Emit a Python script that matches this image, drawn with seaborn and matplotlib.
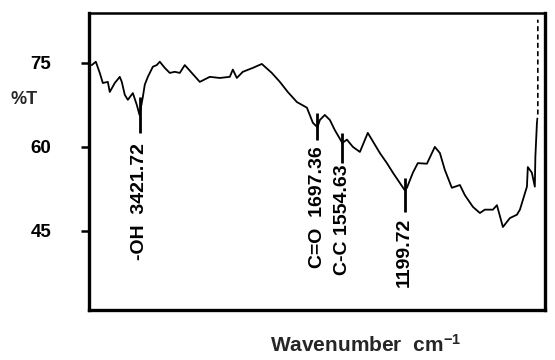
import numpy as np
import pandas as pd
import matplotlib

matplotlib.use("Agg")

import matplotlib.pyplot as plt  # noqa: E402
import seaborn as sns  # noqa: E402

# FTIR trace (wavenumber in cm-1, transmittance in %)
wavenumber = [3966, 3920, 3875, 3840, 3783, 3761, 3704, 3647, 3624, 3590,
              3555, 3498, 3453, 3422, 3384, 3362, 3327, 3270, 3225, 3191,
              3134, 3077, 3020, 2963, 2906, 2826, 2735, 2621, 2507, 2393,
              2358, 2313, 2244, 2130, 2028, 1957, 1911, 1866, 1814, 1757,
              1723, 1697, 1683, 1655, 1626, 1598, 1555, 1529, 1495, 1455,
              1410, 1387, 1341, 1301, 1267, 1200, 1187, 1153, 1125, 1073,
              1028, 999, 971, 931, 885, 857, 811, 771, 743, 697,
              674, 640, 600, 560, 543, 503, 498, 475, 458, 455, 446]
transmittance = [74.6, 75.2, 73.2, 71.4, 71.6, 69.8, 71.4, 72.5, 71.6, 69.3,
                 68.4, 69.6, 67.5, 65.7, 68.9, 71.1, 72.5, 74.3, 74.6, 75.2,
                 74.1, 73.2, 73.4, 73.2, 74.6, 73.2, 71.6, 72.5, 72.3, 72.5,
                 73.8, 72.3, 73.4, 74.1, 74.8, 73.2, 71.6, 69.8, 68.0, 67.0,
                 64.3, 63.5, 64.8, 65.7, 64.8, 63.0, 60.7, 61.3, 60.0, 59.1,
                 62.5, 61.3, 58.9, 57.1, 55.4, 52.3, 52.7, 55.4, 57.1, 57.0,
                 60.0, 58.9, 55.9, 52.7, 53.2, 51.4, 49.3, 48.2, 48.8, 48.8,
                 49.6, 45.7, 47.3, 47.9, 48.8, 52.9, 56.4, 55.4, 52.9, 58.2, 64.3]

# faint dashed trace at the far right edge
edge_wn = [446, 441, 441]
edge_t = [64.3, 66.0, 82.7]

# labelled bands
band_wn = [3421.72, 1697.36, 1554.63, 1199.72]
band_labels = ["-OH  3421.72", "C=O  1697.36", "C-C 1554.63", "1199.72"]

y_ticks = [45, 60, 75]


def _fwd(w):
    # spectrometer chart: scale doubles below 2000 cm-1
    w = np.asarray(w, dtype=float)
    return np.where(w > 2000, (w + 2000) / 2, w)


def _inv(u):
    u = np.asarray(u, dtype=float)
    return np.where(u > 2000, 2 * u - 2000, u)


sns.set_theme(style="white")
plt.rcParams["font.family"] = ["Liberation Sans", "DejaVu Sans"]
plt.rcParams["mathtext.fontset"] = "custom"
plt.rcParams["mathtext.bf"] = "Liberation Sans:bold"
plt.rcParams["mathtext.rm"] = "Liberation Sans:bold"
plt.rcParams["mathtext.default"] = "bf"

df = pd.DataFrame({"wn": wavenumber, "T": transmittance})

fig = plt.figure(figsize=(5.55, 3.6), dpi=100)
ax = fig.add_axes([0.160, 0.139, 0.822, 0.825])
ax.set_xscale("function", functions=(_fwd, _inv))

sns.lineplot(data=df, x="wn", y="T", sort=False, color="black",
             linewidth=1.3, ax=ax)
ax.plot(edge_wn, edge_t, color="black", linewidth=1.2, linestyle=(0, (3, 2)))

# band markers: (top, bottom) of the vertical bar and top of the label
bar_spans = [(68.9, 62.5), (66.1, 61.3), (62.5, 57.1), (54.5, 48.4)]
label_tops = [60.6, 60.1, 56.9, 47.4]
for wn, lab, (top, bot), ltop in zip(band_wn, band_labels, bar_spans, label_tops):
    ax.plot([wn, wn], [top, bot], color="black", linewidth=2.0,
            solid_capstyle="butt")
    ax.text(wn, ltop, lab, rotation=90, ha="center", va="top",
            fontsize=14, fontweight="bold", color="black")

ax.set_xlim(4000, 400)
ax.set_ylim(30.9, 83.9)
ax.set_xticks([])
ax.set_yticks(y_ticks)
ax.set_yticklabels([str(t) for t in y_ticks], fontsize=13.5, fontweight="bold")
ax.tick_params(axis="y", direction="out", length=6, width=1.8, pad=21,
               left=True, colors="black")
ax.set_xlabel("")
ax.set_ylabel("")

for side, lw in [("left", 2.4), ("bottom", 2.4), ("top", 1.8), ("right", 2.4)]:
    ax.spines[side].set_visible(True)
    ax.spines[side].set_color("black")
    ax.spines[side].set_linewidth(lw)

fig.text(0.043, 0.725, "%T", fontsize=13, fontweight="bold",
         ha="center", va="center")
fig.text(0.658, 0.042, r"Wavenumber  cm$^{-1}$", fontsize=15,
         fontweight="bold", ha="center", va="center")

fig.savefig("out.png", dpi=100, facecolor="white")
